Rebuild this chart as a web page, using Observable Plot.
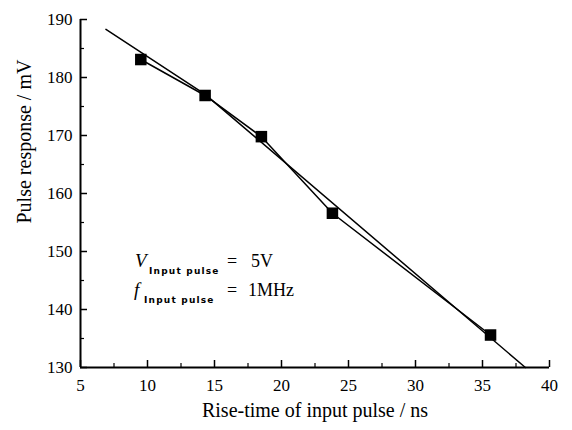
<!DOCTYPE html>
<html><head><meta charset="utf-8">
<script src="https://cdn.jsdelivr.net/npm/d3@7"></script>
<script src="https://cdn.jsdelivr.net/npm/@observablehq/plot@0.6"></script>
<style>body{margin:0;background:#fff}</style>
</head><body><div id="chart"></div>
<script>
const riseTime = [9.5, 14.3, 18.5, 23.8, 35.6];
const response = [183.1, 176.9, 169.8, 156.6, 135.6];
const fitX = [6.9, 14.3, 38.2];
const fitY = [188.3, 177.1, 130];
const xTicks = [5, 10, 15, 20, 25, 30, 35, 40];
const xMinor = [7.5, 12.5, 17.5, 22.5, 27.5, 32.5, 37.5];
const yTicks = [130, 140, 150, 160, 170, 180, 190];
const yMinor = [135, 145, 155, 165, 175, 185];
const xTitle = "Rise-time of input pulse / ns";
const yTitle = "Pulse response / mV";
const annotSym = ["V", "f"];
const annotSub = ["Input pulse", "Input pulse"];
const annotVal = ["5V", "1MHz"];

const W = 572, H = 430, mL = 80, mR = 23, mT = 19, mB = 63;
const pw = W - mL - mR, ph = H - mT - mB;
const pts = riseTime.map((x, i) => ({x, y: response[i]}));
const fit = fitX.map((x, i) => ({x, y: fitY[i]}));
const serif = "'Liberation Serif', 'Times New Roman', serif";

const chart = Plot.plot({
  width: W, height: H,
  marginLeft: mL, marginRight: mR, marginTop: mT, marginBottom: mB,
  x: {domain: [5, 40], axis: null},
  y: {domain: [130, 190], axis: null},
  style: {fontFamily: serif, background: "#fff", color: "#000"},
  marks: [
    Plot.ruleY([130], {stroke: "#000", strokeWidth: 2}),
    Plot.ruleX([5], {stroke: "#000", strokeWidth: 2}),
    Plot.ruleX(xTicks, {x: d => d, insetTop: ph - 7, stroke: "#000", strokeWidth: 1.5}),
    Plot.ruleX(xMinor, {x: d => d, insetTop: ph - 4, stroke: "#000", strokeWidth: 1.2}),
    Plot.ruleY(yTicks, {y: d => d, insetRight: pw - 7, stroke: "#000", strokeWidth: 1.5}),
    Plot.ruleY(yMinor, {y: d => d, insetRight: pw - 4, stroke: "#000", strokeWidth: 1.2}),
    Plot.text(xTicks, {x: d => d, y: 130, dy: 18, text: d => String(d), fontSize: 17, fill: "#000", lineAnchor: "middle"}),
    Plot.text(yTicks, {x: 5, y: d => d, dx: -8, text: d => String(d), fontSize: 17, fill: "#000", textAnchor: "end"}),
    Plot.text([xTitle], {frameAnchor: "bottom", dy: 49, fontSize: 20, fill: "#000"}),
    Plot.text([yTitle], {frameAnchor: "left", dx: -56, dy: 30, rotate: -90, fontSize: 20, fill: "#000"}),
    Plot.line(fit, {x: "x", y: "y", stroke: "#000", strokeWidth: 1.5}),
    Plot.line(pts, {x: "x", y: "y", stroke: "#000", strokeWidth: 1.5}),
    Plot.dot(pts, {x: "x", y: "y", symbol: "square", r: 6.5, fill: "#000", stroke: "none"})
  ]
});
document.getElementById("chart").appendChild(chart);

// annotation (V_input pulse = 5V, f_input pulse = 1MHz)
const svg = d3.select(chart);
const baseY = [267, 296];
const symX = [135, 134];
const subX = [149, 144];
annotSym.forEach((s, i) => {
  const g = svg.append("g").attr("font-family", serif).attr("fill", "#000").attr("text-anchor", "start");
  g.append("text").attr("x", symX[i]).attr("y", baseY[i]).attr("font-size", 19).attr("font-style", "italic").text(s);
  g.append("text").attr("x", subX[i]).attr("y", baseY[i] + 7).attr("font-size", 9).attr("font-weight", "bold")
    .attr("font-family", "'DejaVu Sans', sans-serif").attr("letter-spacing", 1.2).text(annotSub[i]);
  g.append("text").attr("x", 227).attr("y", baseY[i]).attr("font-size", 18).text("=");
  g.append("text").attr("x", i === 0 ? 251 : 248).attr("y", baseY[i]).attr("font-size", 18).text(annotVal[i]);
});
</script>
</body></html>
